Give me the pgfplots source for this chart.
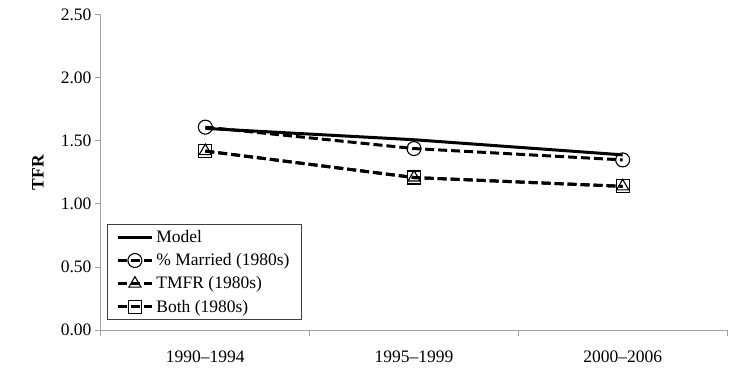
\documentclass[border=0pt]{standalone}
\usepackage{pgfplots}
\pgfplotsset{compat=1.18}
\usepackage{fontspec}
\setmainfont{Liberation Serif}
\definecolor{axgray}{RGB}{160,160,160}
\begin{document}
\begin{tikzpicture}[font=\fontsize{17.5}{20}\selectfont]
\begin{axis}[
  scale only axis, width=626pt, height=315pt,
  xmin=-0.5, xmax=2.5, ymin=0, ymax=2.5,
  axis x line*=bottom, axis y line*=left,
  axis line style={axgray, line width=1pt},
  xtick={-0.5,0.5,1.5,2.5},
  xticklabels={},
  extra x ticks={0,1,2},
  extra x tick labels={1990--1994,1995--1999,2000--2006},
  extra x tick style={major tick length=0pt, tick style={draw=none}, xticklabel style={yshift=-17pt}},
  major tick length=6pt,
  tick align=outside,
  tick style={axgray, line width=1pt},
  ytick={0,0.5,1,1.5,2,2.5},
  yticklabel style={/pgf/number format/.cd, fixed, fixed zerofill, precision=2, assume math mode=true},
  ylabel={\textbf{TFR}},
  every axis y label/.style={at={(axis description cs:0,0.5)}, rotate=90, anchor=center, yshift=63pt},
  clip=false,
  legend cell align=left,
  legend style={at={(axis description cs:0,0)}, anchor=south west, xshift=6pt, yshift=10pt,
    draw=black!75, line width=0.8pt, inner xsep=9pt, inner ysep=5pt, row sep=7.5pt,
    font=\fontsize{17.5}{20}\selectfont,
    nodes={inner xsep=3pt, inner ysep=1pt}},
  legend image code/.code={\draw[mark repeat=2,mark phase=2,#1] plot coordinates {(0pt,0pt) (17pt,0pt) (34pt,0pt)};},
]
\addplot[black, line width=3pt] coordinates {(0,1.60) (1,1.51) (2,1.39)};
\addlegendentry{Model}
\addplot[black, line width=3pt, dash pattern=on 9pt off 4pt, mark=o, mark size=7pt, mark options={solid, line width=1.1pt}] coordinates {(0,1.61) (1,1.44) (2,1.35)};
\addlegendentry{\% Married (1980s)}
\addplot[black, line width=3pt, dash pattern=on 9pt off 4pt, mark=triangle, mark size=7pt, mark options={solid, line width=1.1pt}] coordinates {(0,1.42) (1,1.21) (2,1.14)};
\addlegendentry{TMFR (1980s)}
\addplot[black, line width=3pt, dash pattern=on 9pt off 4pt, mark=square, mark size=6.5pt, mark options={solid, line width=1.1pt}] coordinates {(0,1.42) (1,1.21) (2,1.14)};
\addlegendentry{Both (1980s)}
\end{axis}
\path[use as bounding box] (current axis.south west) ++(-101pt,-42pt) rectangle ++(754pt,372pt);
\end{tikzpicture}
\end{document}
